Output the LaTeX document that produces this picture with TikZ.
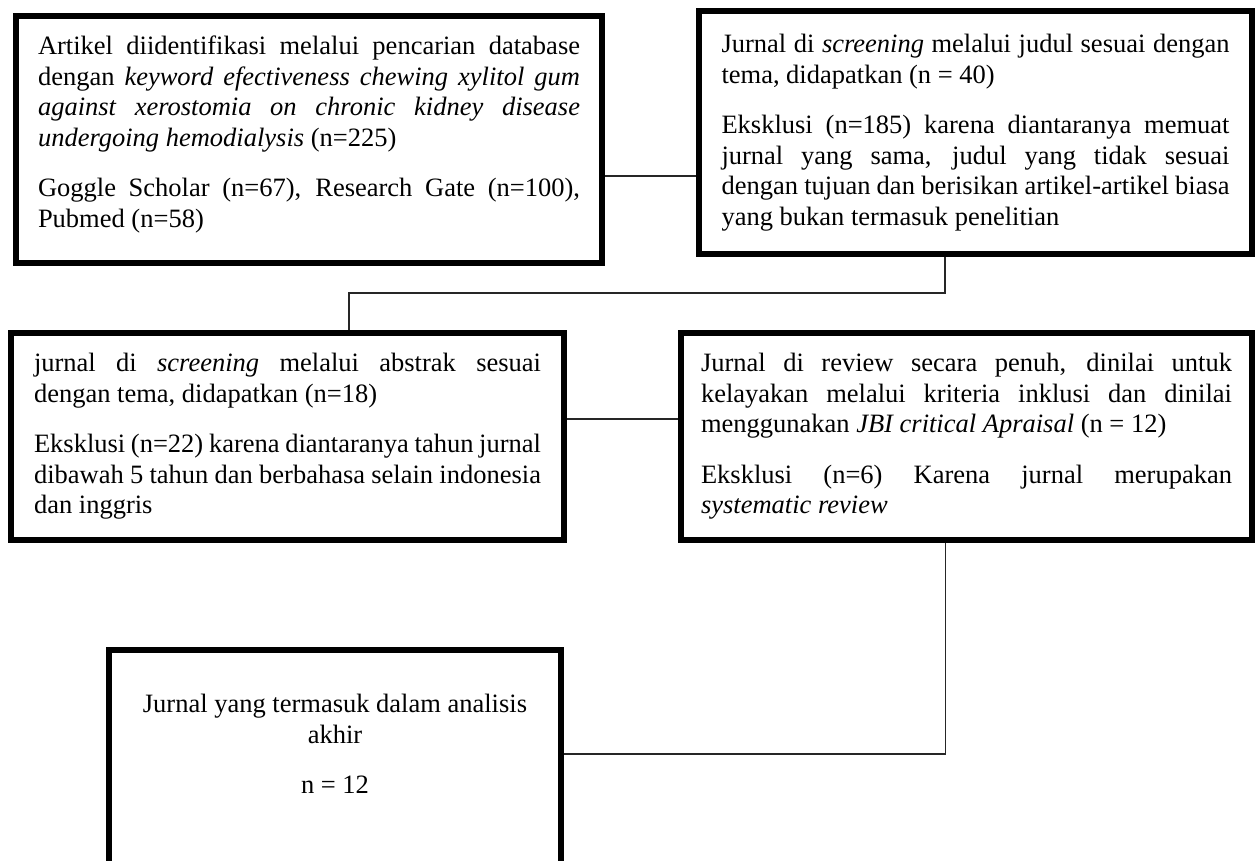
\documentclass[tikz,border=0pt]{standalone}
\usepackage{fontspec}
\setmainfont{Liberation Serif}
\usetikzlibrary{positioning}
\hyphenpenalty=10000
\tolerance=9999
\newcommand{\boxfont}{\fontsize{26.5pt}{30.5pt}\selectfont}
\newcommand{\parjump}{\par\vspace{20pt}}
\newcommand{\tailgap}[1]{\par\vspace{#1}\hrule height 0pt}

\begin{document}
\begin{tikzpicture}[x=1pt, y=1pt,
    flowbox/.style={draw, line width=6pt, outer sep=3pt, inner sep=0pt, align=justify, font=\boxfont},
    link/.style={draw, line width=1.3pt, black!85}]
    \useasboundingbox (0,0) rectangle (1255,-861);
    \clip (0,0) rectangle (1255,-861);

    % search and screening
    \node (ident) [flowbox, anchor=north west, text width=542pt, minimum width=586pt, minimum height=247pt] at (13,-13) {Artikel diidentifikasi melalui pencarian database dengan \textit{keyword efectiveness chewing xylitol gum against xerostomia on chronic kidney disease undergoing hemodialysis} (n=225)\parjump Goggle Scholar (n=67), Research Gate (n=100), Pubmed (n=58)\tailgap{10pt}};
    \node (titlescreen) [flowbox, anchor=north west, text width=508pt, minimum width=553pt, minimum height=243pt] at (696,-8) {Jurnal di \textit{screening} melalui judul sesuai dengan tema, didapatkan (n = 40)\parjump Eksklusi (n=185) karena diantaranya memuat\linebreak jurnal yang sama, judul yang tidak sesuai\linebreak dengan tujuan dan berisikan artikel-artikel biasa\linebreak yang bukan termasuk penelitian};
    \node (abstractscreen) [flowbox, anchor=north west, text width=507pt, minimum width=553pt, minimum height=207pt] at (8,-330) {jurnal di \textit{screening} melalui abstrak sesuai dengan tema, didapatkan (n=18)\parjump Eksklusi (n=22) karena diantaranya tahun jurnal dibawah 5 tahun dan berbahasa selain indonesia dan inggris};
    \node (fullreview) [flowbox, right=111pt of abstractscreen.north east, anchor=north west, text width=531pt, minimum width=571pt, minimum height=207pt] {Jurnal di review secara penuh, dinilai untuk kelayakan melalui kriteria inklusi dan dinilai menggunakan \textit{JBI critical Apraisal} (n = 12)\parjump Eksklusi (n=6) Karena jurnal merupakan \textit{systematic review}};

    % final box, cut by the page bottom
    \node (included) [flowbox, align=flush center, anchor=north west, text width=420pt, minimum width=452pt, minimum height=260pt] at (106,-647) {Jurnal yang termasuk dalam analisis akhir\parjump n = 12\tailgap{72pt}};

    \draw[link] ([yshift=-36.5pt]ident.east) -- ([yshift=-36.5pt]ident.east -| titlescreen.west);
    \draw[link] ([xshift=-30.5pt]titlescreen.south) |- ([xshift=61.5pt,yshift=37pt]abstractscreen.north) -- ([xshift=61.5pt]abstractscreen.north);
    \draw[link] ([yshift=17.5pt]abstractscreen.east) -- ([yshift=17.5pt]abstractscreen.east -| fullreview.west);
    \draw[link] ([xshift=-21pt]fullreview.south) |- ([yshift=26pt]included.east);
\end{tikzpicture}
\end{document}
